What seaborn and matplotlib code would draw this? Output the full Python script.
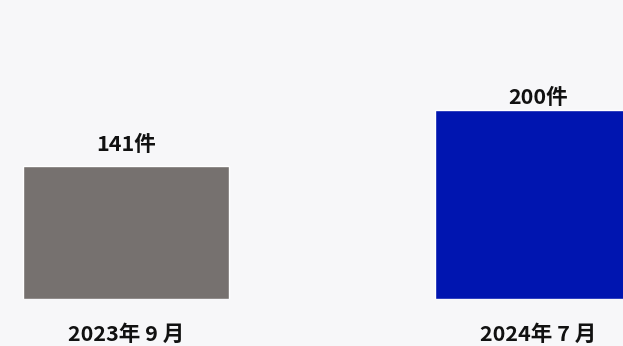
import matplotlib
matplotlib.use("Agg")
import matplotlib.pyplot as plt
import seaborn as sns
import pandas as pd

# Monthly counts
periods = ["2023年 9 月", "2024年 7 月"]
counts = [141, 200]
value_labels = ["141件", "200件"]
bar_colors = ["#76716f", "#0015b0"]

df = pd.DataFrame({"period": periods, "count": counts})

sns.set_theme(style="white")
plt.rcParams["font.family"] = ["Noto Sans CJK JP", "DejaVu Sans"]

fig = plt.figure(figsize=(6.23, 3.46), dpi=100, facecolor="#f7f7f9")
ax = fig.add_axes([0, 47 / 346, 1, 299 / 346])
ax.set_facecolor("#f7f7f9")

sns.barplot(data=df, x="period", y="count", hue="period",
            palette=bar_colors, width=0.5, legend=False, ax=ax,
            saturation=1)

ax.set_xlim(-0.305, 1.207)
ax.set_ylim(0, 317)

# value labels above each bar (gap in pixels between bar top and text baseline)
label_gaps = [15, 6]
for patch, text, gap in zip(ax.patches, value_labels, label_gaps):
    ax.annotate(text, (patch.get_x() + patch.get_width() / 2, patch.get_height()),
                xytext=(0, gap * 0.72), textcoords="offset points",
                ha="center", va="baseline", fontsize=15.5, fontweight="bold",
                color="#111111")

ax.set_xlabel("")
ax.set_ylabel("")
ax.set_yticks([])
ax.tick_params(axis="x", length=0, pad=18, labelsize=15.5)
for lbl in ax.get_xticklabels():
    lbl.set_fontweight("bold")
    lbl.set_color("#111111")
for s in ax.spines.values():
    s.set_visible(False)

fig.savefig("out.png", dpi=100, facecolor=fig.get_facecolor())
